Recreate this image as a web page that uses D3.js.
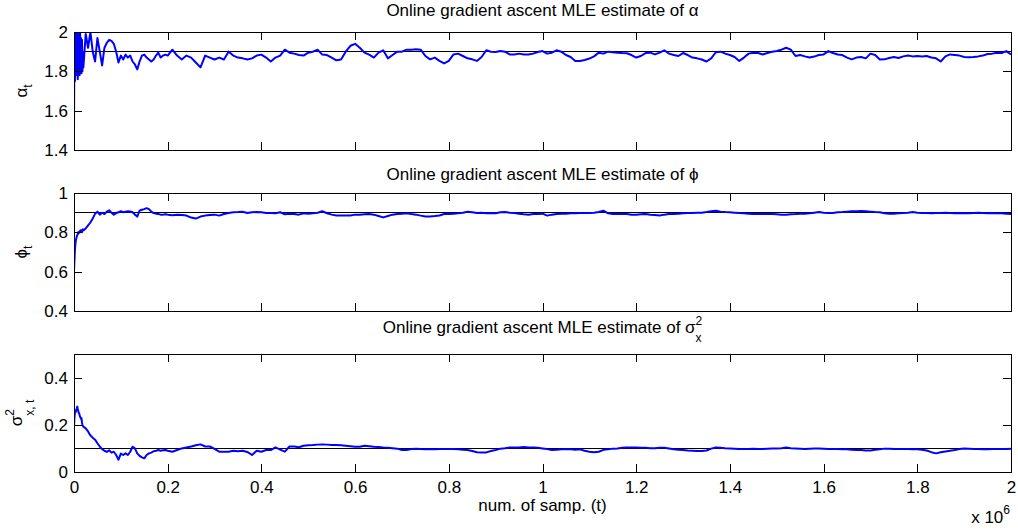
<!DOCTYPE html>
<meta charset="utf-8" />
<title>Online gradient ascent MLE estimates</title>
<script src="https://cdn.jsdelivr.net/npm/d3@7"></script>

<style>
  body {
    margin: 0;
    padding: 0;
    background: #fff;
  }

  svg {
    font-family: "Liberation Sans", Arial, sans-serif;
  }

  .frame {
    fill: none;
    stroke: #000;
    stroke-width: 1;
    shape-rendering: crispEdges;
  }

  .truth {
    stroke: #000;
    stroke-width: 1;
    shape-rendering: crispEdges;
  }

  .estimate {
    fill: none;
    stroke: #0000ff;
    stroke-width: 2;
    stroke-linejoin: round;
  }

  .axis line {
    stroke: #000;
    shape-rendering: crispEdges;
  }
</style>

<body>
  <div id="chart"></div>
</body>

<script>
  // sample positions (units of 1e6): three sampling segments
  const tSegments = [
    { start: 0, step: 0.001 },   // 0 .. 0.019
    { start: 0.02, step: 0.005 }, // 0.02 .. 0.195
    { start: 0.2, step: 0.01 }    // 0.2 .. 2.0
  ];

  const xTicks = [0, 0.2, 0.4, 0.6, 0.8, 1, 1.2, 1.4, 1.6, 1.8, 2];
  const xTickLabels = ["0", "0.2", "0.4", "0.6", "0.8", "1", "1.2", "1.4", "1.6", "1.8", "2"];

  // alpha estimate
  const alphaEarly = [1.49, 2.05, 1.75, 2.05, 1.78, 2.04, 1.82, 2.03, 1.76, 2.02, 1.8, 1.99, 1.78, 2.0, 1.8, 1.97, 1.79, 1.96, 1.8, 1.9];
  const alphaMid = [1.82, 1.99, 1.92, 2.0, 1.90, 1.85, 1.97, 1.90, 1.83, 1.92,
    1.945, 1.96, 1.955, 1.94, 1.90, 1.845, 1.88, 1.86, 1.885, 1.87,
    1.88, 1.85, 1.835, 1.81, 1.85, 1.88, 1.885, 1.87, 1.86, 1.85,
    1.86, 1.88, 1.895, 1.87, 1.88, 1.885];
  const alphaLate = [1.88, 1.91, 1.88, 1.86, 1.88, 1.87, 1.845, 1.82, 1.88, 1.87,
    1.86, 1.87, 1.86, 1.90, 1.88, 1.87, 1.866, 1.86, 1.866, 1.88,
    1.885, 1.87, 1.85, 1.87, 1.88, 1.91, 1.895, 1.89, 1.883, 1.88,
    1.895, 1.90, 1.91, 1.885, 1.883, 1.87, 1.856, 1.86, 1.90, 1.93,
    1.94, 1.92, 1.895, 1.885, 1.87, 1.895, 1.907, 1.866, 1.883, 1.90,
    1.90, 1.91, 1.91, 1.912, 1.91, 1.878, 1.861, 1.87, 1.853, 1.84,
    1.853, 1.886, 1.89, 1.878, 1.866, 1.861, 1.853, 1.873, 1.907, 1.90,
    1.898, 1.903, 1.90, 1.886, 1.886, 1.89, 1.886, 1.886, 1.89, 1.898,
    1.903, 1.89, 1.895, 1.907, 1.90, 1.883, 1.873, 1.853, 1.853, 1.858,
    1.865, 1.876, 1.895, 1.89, 1.90, 1.897, 1.895, 1.893, 1.892, 1.883,
    1.87, 1.878, 1.893, 1.895, 1.886, 1.895, 1.907, 1.89, 1.883, 1.878,
    1.893, 1.883, 1.87, 1.866, 1.86, 1.85, 1.866, 1.897, 1.90, 1.89,
    1.883, 1.873, 1.853, 1.87, 1.89, 1.895, 1.893, 1.886, 1.893, 1.90,
    1.903, 1.91, 1.92, 1.91, 1.878, 1.883, 1.876, 1.87, 1.875, 1.883,
    1.886, 1.903, 1.893, 1.886, 1.883, 1.87, 1.861, 1.87, 1.873, 1.866,
    1.89, 1.883, 1.86, 1.861, 1.868, 1.873, 1.868, 1.876, 1.881, 1.876,
    1.878, 1.876, 1.878, 1.87, 1.866, 1.85, 1.876, 1.886, 1.883, 1.88,
    1.873, 1.871, 1.873, 1.876, 1.88, 1.888, 1.89, 1.895, 1.893, 1.903,
    1.886];

  // phi estimate
  const phiEarly = [0.60, 0.66, 0.71, 0.74, 0.76, 0.77, 0.78, 0.785, 0.79, 0.80, 0.795, 0.80, 0.805, 0.80, 0.81, 0.805, 0.81, 0.80, 0.81, 0.815];
  const phiMid = [0.81, 0.82, 0.835, 0.85, 0.87, 0.895, 0.905, 0.89, 0.90, 0.893,
    0.905, 0.912, 0.90, 0.89, 0.898, 0.902, 0.907, 0.902, 0.905, 0.907,
    0.906, 0.902, 0.89, 0.88, 0.91, 0.915, 0.918, 0.923, 0.918, 0.905,
    0.898, 0.895, 0.893, 0.89, 0.89, 0.892];
  const phiLate = [0.89, 0.887, 0.89, 0.888, 0.885, 0.875, 0.87, 0.88, 0.885, 0.888,
    0.89, 0.885, 0.893, 0.898, 0.902, 0.903, 0.905, 0.898, 0.902, 0.903,
    0.902, 0.898, 0.898, 0.897, 0.902, 0.892, 0.895, 0.893, 0.89, 0.897,
    0.895, 0.897, 0.90, 0.907, 0.897, 0.89, 0.886, 0.886, 0.885, 0.886,
    0.89, 0.89, 0.892, 0.893, 0.89, 0.883, 0.876, 0.883, 0.89, 0.893,
    0.895, 0.897, 0.893, 0.89, 0.885, 0.881, 0.881, 0.883, 0.886, 0.893,
    0.893, 0.895, 0.897, 0.90, 0.905, 0.902, 0.898, 0.90, 0.897, 0.898,
    0.897, 0.902, 0.903, 0.90, 0.898, 0.895, 0.892, 0.89, 0.893, 0.893,
    0.895, 0.885, 0.89, 0.893, 0.895, 0.895, 0.897, 0.897, 0.898, 0.898,
    0.898, 0.90, 0.903, 0.91, 0.897, 0.893, 0.893, 0.893, 0.893, 0.89,
    0.89, 0.892, 0.893, 0.89, 0.888, 0.886, 0.89, 0.893, 0.893, 0.895,
    0.897, 0.898, 0.898, 0.90, 0.90, 0.903, 0.907, 0.91, 0.905, 0.903,
    0.902, 0.90, 0.898, 0.897, 0.895, 0.893, 0.893, 0.893, 0.893, 0.893,
    0.892, 0.89, 0.89, 0.892, 0.893, 0.895, 0.895, 0.897, 0.90, 0.903,
    0.90, 0.898, 0.898, 0.902, 0.903, 0.905, 0.907, 0.907, 0.908, 0.907,
    0.905, 0.903, 0.902, 0.897, 0.895, 0.895, 0.897, 0.898, 0.90, 0.903,
    0.90, 0.898, 0.898, 0.897, 0.898, 0.898, 0.90, 0.898, 0.897, 0.897,
    0.898, 0.897, 0.898, 0.90, 0.898, 0.897, 0.898, 0.897, 0.897, 0.895,
    0.893];

  // sigma_x^2 estimate
  const sigmaEarly = [0.19, 0.23, 0.25, 0.26, 0.255, 0.265, 0.27, 0.277, 0.265, 0.26, 0.25, 0.25, 0.24, 0.235, 0.23, 0.225, 0.228, 0.21, 0.2, 0.195];
  const sigmaMid = [0.192, 0.185, 0.172, 0.155, 0.145, 0.137, 0.122, 0.108, 0.097, 0.09,
    0.085, 0.092, 0.082, 0.086, 0.072, 0.052, 0.078, 0.072, 0.079, 0.072,
    0.086, 0.107, 0.1, 0.079, 0.068, 0.062, 0.058, 0.072, 0.079, 0.082,
    0.088, 0.09, 0.093, 0.09, 0.092, 0.093];
  const sigmaLate = [0.09, 0.086, 0.093, 0.1, 0.104, 0.108, 0.113, 0.117, 0.108, 0.108,
    0.098, 0.086, 0.086, 0.086, 0.09, 0.088, 0.09, 0.085, 0.072, 0.09,
    0.086, 0.093, 0.093, 0.104, 0.095, 0.086, 0.108, 0.108, 0.105, 0.111,
    0.113, 0.114, 0.116, 0.117, 0.116, 0.114, 0.114, 0.113, 0.111, 0.109,
    0.107, 0.107, 0.111, 0.109, 0.107, 0.106, 0.104, 0.103, 0.101, 0.099,
    0.093, 0.093, 0.097, 0.099, 0.097, 0.096, 0.096, 0.096, 0.097, 0.097,
    0.097, 0.097, 0.096, 0.094, 0.093, 0.089, 0.084, 0.083, 0.083, 0.089,
    0.093, 0.099, 0.101, 0.104, 0.104, 0.104, 0.106, 0.104, 0.104, 0.103,
    0.10, 0.097, 0.093, 0.094, 0.096, 0.096, 0.096, 0.094, 0.096, 0.09,
    0.086, 0.084, 0.086, 0.094, 0.096, 0.099, 0.10, 0.103, 0.104, 0.104,
    0.104, 0.103, 0.103, 0.101, 0.101, 0.103, 0.103, 0.10, 0.096, 0.094,
    0.093, 0.091, 0.09, 0.089, 0.089, 0.091, 0.099, 0.104, 0.103, 0.101,
    0.10, 0.099, 0.097, 0.097, 0.097, 0.099, 0.097, 0.097, 0.099, 0.10,
    0.10, 0.101, 0.104, 0.101, 0.10, 0.099, 0.097, 0.099, 0.10, 0.10,
    0.099, 0.097, 0.097, 0.097, 0.096, 0.096, 0.094, 0.093, 0.093, 0.091,
    0.091, 0.094, 0.096, 0.099, 0.099, 0.097, 0.097, 0.097, 0.097, 0.096,
    0.096, 0.094, 0.091, 0.084, 0.079, 0.084, 0.087, 0.09, 0.093, 0.097,
    0.10, 0.099, 0.097, 0.097, 0.096, 0.096, 0.097, 0.097, 0.097, 0.097,
    0.099];

  // true parameter values
  const truths = [1.9, 0.9, 0.1];

  const width = 1018, height = 532;
  const left = 74, right = 1011;
  const panelTops = [32, 193, 354];
  const panelH = 118;

  function buildSeries(parts) {
    return parts.flatMap(function (vals, k) {
      return vals.map(function (v, i) {
        return { t: tSegments[k].start + i * tSegments[k].step, v: v };
      });
    });
  }

  // draws text pieces (base / sup / sub) left to right, returns width
  function richText(g, pieces, size) {
    let x = 0, lastStart = 0;
    pieces.forEach(function (p) {
      const px = p.overlap ? lastStart : x;
      const node = g.append("text")
        .attr("x", px)
        .attr("y", p.dy || 0)
        .style("font-size", (p.size || size) + "px")
        .text(p.text);
      const w = node.node().getComputedTextLength();
      lastStart = px;
      x = Math.max(x, px + w);
    });
    return x;
  }

  const panels = [
    {
      series: buildSeries([alphaEarly, alphaMid, alphaLate]),
      domain: [1.4, 2], ticks: [1.4, 1.6, 1.8, 2], tickLabels: ["1.4", "1.6", "1.8", "2"],
      title: [{ text: "Online gradient ascent MLE estimate of α" }],
      titleY: 16,
      ylabel: [{ text: "α" }, { text: "t", dy: 5, size: 12 }], ylabelX: 27
    },
    {
      series: buildSeries([phiEarly, phiMid, phiLate]),
      domain: [0.4, 1], ticks: [0.4, 0.6, 0.8, 1], tickLabels: ["0.4", "0.6", "0.8", "1"],
      title: [{ text: "Online gradient ascent MLE estimate of ϕ" }],
      titleY: 180,
      ylabel: [{ text: "ϕ" }, { text: "t", dy: 5, size: 12 }], ylabelX: 27
    },
    {
      series: buildSeries([sigmaEarly, sigmaMid, sigmaLate]),
      domain: [0, 0.5], ticks: [0, 0.2, 0.4], tickLabels: ["0", "0.2", "0.4"],
      title: [{ text: "Online gradient ascent MLE estimate of σ" },
        { text: "2", dy: -8, size: 12 }, { text: "x", dy: 9, size: 12, overlap: true }],
      titleY: 333,
      ylabel: [{ text: "σ" }, { text: "2", dy: -8, size: 12 }, { text: "x, t", dy: 12, size: 12, overlap: true }],
      ylabelX: 22
    }
  ];

  const svg = d3.select("#chart").append("svg")
    .attr("width", width)
    .attr("height", height);

  const x = d3.scaleLinear().domain([0, 2]).range([left, right]);

  panels.forEach(function (p, i) {
    const top = panelTops[i];
    const y = d3.scaleLinear().domain(p.domain).range([top + panelH, top]);

    const clipId = "clip" + i;
    svg.append("clipPath").attr("id", clipId)
      .append("rect")
      .attr("x", left).attr("y", top)
      .attr("width", right - left).attr("height", panelH);

    // true value
    svg.append("line")
      .attr("class", "truth")
      .attr("x1", left).attr("x2", right)
      .attr("y1", y(truths[i])).attr("y2", y(truths[i]));

    const line = d3.line()
      .x(function (d) { return x(d.t); })
      .y(function (d) { return y(d.v); });

    svg.append("path")
      .datum(p.series)
      .attr("class", "estimate")
      .attr("clip-path", "url(#" + clipId + ")")
      .attr("d", line);

    // axes, ticks pointing inward
    const bottom = svg.append("g")
      .attr("class", "axis")
      .attr("transform", "translate(0," + (top + panelH) + ")")
      .call(d3.axisBottom(x).tickValues(xTicks)
        .tickFormat(function (d, k) { return i === 2 ? xTickLabels[k] : ""; })
        .tickSizeInner(-8).tickSizeOuter(0).tickPadding(9));
    svg.append("g")
      .attr("class", "axis")
      .attr("transform", "translate(0," + top + ")")
      .call(d3.axisTop(x).tickValues(xTicks).tickFormat("")
        .tickSizeInner(-8).tickSizeOuter(0));
    const leftAxis = svg.append("g")
      .attr("class", "axis")
      .attr("transform", "translate(" + left + ",0)")
      .call(d3.axisLeft(y).tickValues(p.ticks)
        .tickFormat(function (d, k) { return p.tickLabels[k]; })
        .tickSizeInner(-8).tickSizeOuter(0).tickPadding(6));
    svg.append("g")
      .attr("class", "axis")
      .attr("transform", "translate(" + right + ",0)")
      .call(d3.axisRight(y).tickValues(p.ticks).tickFormat("")
        .tickSizeInner(-8).tickSizeOuter(0));

    svg.selectAll(".axis .domain").remove();
    svg.selectAll(".axis")
      .attr("font-family", null)
      .attr("font-size", null);
    bottom.selectAll("text").style("font-size", "17px");
    leftAxis.selectAll("text").style("font-size", "17px");

    svg.append("rect")
      .attr("class", "frame")
      .attr("x", left).attr("y", top)
      .attr("width", right - left).attr("height", panelH);

    // title
    const tg = svg.append("g");
    const tw = richText(tg, p.title, 17);
    tg.attr("transform", "translate(" + ((left + right) / 2 - tw / 2) + "," + p.titleY + ")");

    // y label, rotated
    const yg = svg.append("g");
    const yw = richText(yg, p.ylabel, 17);
    yg.attr("transform", "translate(" + p.ylabelX + "," + (top + panelH / 2) + ") rotate(-90) translate(" + (-yw / 2) + ",0)");
  });

  // x label
  svg.append("text")
    .attr("x", (left + right) / 2)
    .attr("y", 511)
    .attr("text-anchor", "middle")
    .style("font-size", "17px")
    .text("num. of samp. (t)");

  const eg = svg.append("g");
  const ew = richText(eg, [{ text: "x 10" }, { text: "6", dy: -9, size: 12 }], 17);
  eg.attr("transform", "translate(" + (1010 - ew) + ",523)");
</script>
